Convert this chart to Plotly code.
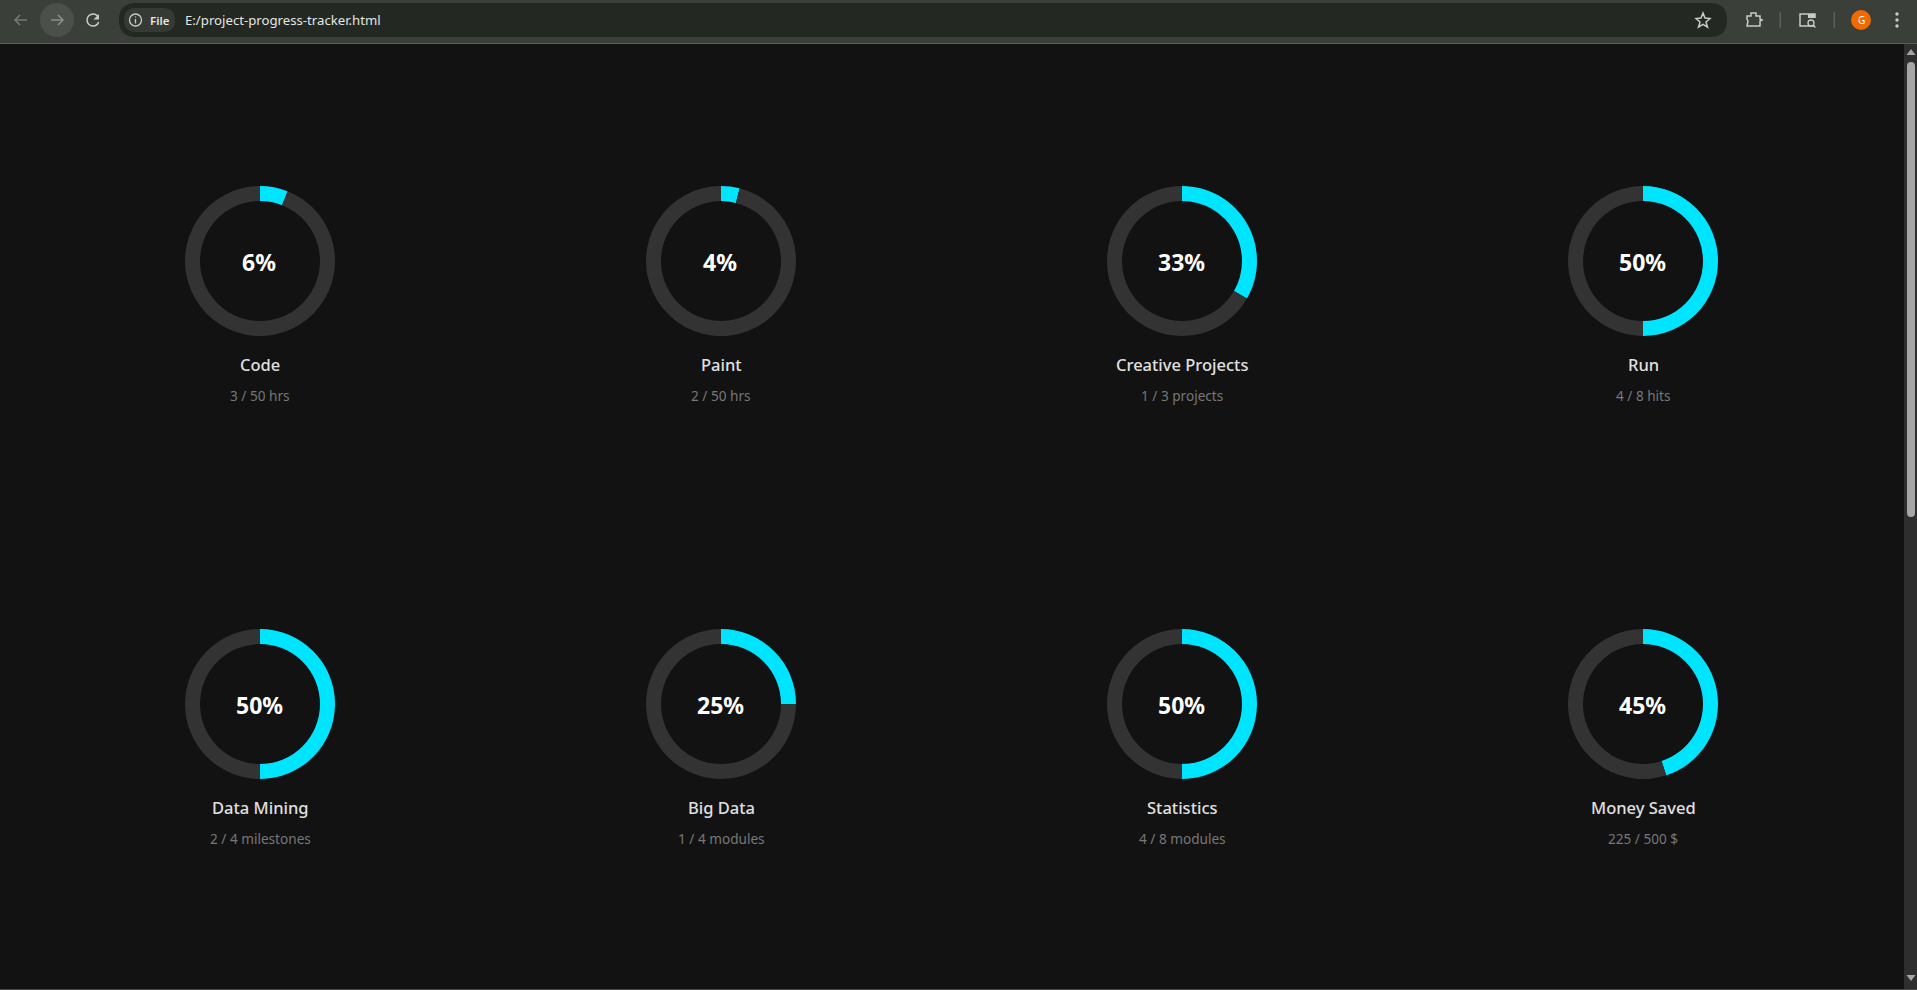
import plotly.graph_objects as go

names = ["Code", "Paint", "Creative Projects", "Run", "Data Mining", "Big Data", "Statistics", "Money Saved"]
done = [3, 2, 1, 4, 2, 1, 4, 225]
totals = [50, 50, 3, 8, 4, 4, 8, 500]
units = ["hrs", "hrs", "projects", "hits", "milestones", "modules", "modules", "$"]
url_text = "E:/project-progress-tracker.html"

W, H = 1917, 990
CX = [260, 721, 1182, 1643]
CY = [261, 704]
R = 75
BG = "#121212"
CYAN = "#00e5ff"
TRACK = "#333333"
FONT = "Noto Sans, Open Sans, sans-serif"

fig = go.Figure()
fig.add_trace(go.Scatter(x=[], y=[], showlegend=False, hoverinfo="skip"))

ann = []
def text(x, y, s, size, color, weight=400, xanchor="center"):
    ann.append(dict(x=x, y=y, xref="x", yref="y", text=s, showarrow=False, xanchor=xanchor, yanchor="middle",
                    font=dict(family=FONT, size=size, color=color, weight=weight)))

for i, name in enumerate(names):
    cx = CX[i % 4]
    cy = CY[i // 4]
    fig.add_trace(go.Pie(
        values=[done[i], totals[i] - done[i]],
        hole=0.8, sort=False, direction="clockwise", rotation=0,
        marker=dict(colors=[CYAN, TRACK], line=dict(width=0)),
        textinfo="none", hoverinfo="skip", showlegend=False,
        domain=dict(x=[(cx - R) / W, (cx + R) / W], y=[1 - (cy + R) / H, 1 - (cy - R) / H]),
    ))
    text(cx - 1, cy + 1, f"{round(done[i] / totals[i] * 100)}%", 23, "#ffffff", 700)
    text(cx, cy + 103, name, 16.5, "#e0e0e0", 500)
    text(cx, cy + 134, f"{done[i]} / {totals[i]} {units[i]}", 13.6, "#777777")

def rrect(x0, y0, x1, y1, r):
    return (f"M{x0+r},{y0} L{x1-r},{y0} Q{x1},{y0} {x1},{y0+r} L{x1},{y1-r} Q{x1},{y1} {x1-r},{y1} "
            f"L{x0+r},{y1} Q{x0},{y1} {x0},{y1-r} L{x0},{y0+r} Q{x0},{y0} {x0+r},{y0} Z")

shapes = []
def fill(path, color):
    shapes.append(dict(type="path", xref="x", yref="y", path=path, fillcolor=color, line=dict(width=0)))
def stroke(path, color, w=1.5):
    shapes.append(dict(type="path", xref="x", yref="y", path=path, line=dict(color=color, width=w)))
def circle(cx, cy, r, fillc=None, linec=None, w=1.5):
    shapes.append(dict(type="circle", xref="x", yref="y", x0=cx - r, x1=cx + r, y0=cy - r, y1=cy + r,
                       fillcolor=fillc or "rgba(0,0,0,0)",
                       line=dict(color=linec or "rgba(0,0,0,0)", width=w if linec else 0)))

BAR = "#3b3f3a"
ICON = "#c8ccc6"
# browser bar
fill(f"M0,0 L{W},0 L{W},43 L0,43 Z", BAR)
fill(f"M0,43 L{W},43 L{W},44 L0,44 Z", "#5a5e59")
circle(57, 20, 17, "#4c504b")
stroke("M15,20 L27,20 M20,15 L15,20 L20,25", "#767a75")
stroke("M51,20 L63,20 M58,15 L63,20 L58,25", "#8a8e89")
stroke("M98.4,17.5 C97.4,15.4 95.4,14 93,14 C89.7,14 87,16.7 87,20 C87,23.3 89.7,26 93,26 C95.6,26 97.8,24.4 98.6,22", ICON)
fill("M99,14 L99,19.5 L93.5,19.5 Z", ICON)
fill(rrect(119, 3, 1727, 37, 17), "#232822")
fill(rrect(124, 8, 175, 32, 12), "#363a35")
circle(135.5, 20, 6, None, ICON, 1.3)
stroke("M135.5,19 L135.5,23.5 M135.5,16.5 L135.5,17.5", ICON, 1.3)
text(148, 20, "File", 11.5, "#e6e8e4", 600, "left")
text(182.5, 20, url_text, 13.2, "#e3e6e1", 400, "left")
stroke("M1703,13 L1705,18 L1710,18.5 L1706,22 L1707.5,27 L1703,24.3 L1698.5,27 L1700,22 L1696,18.5 L1701,18 Z", ICON)
stroke("M1747,16 L1751,16 L1751,13 L1756,13 L1756,16 L1760,16 L1760,19 L1762,20 L1760,21 L1760,26 L1747,26 L1748,21 L1747,19 Z", ICON)
fill("M1779.5,12 L1781,12 L1781,28 L1779.5,28 Z", "#5c605b")
stroke("M1815,26 L1800,26 L1800,14 L1815,14 L1815,18", ICON)
fill("M1808,14 L1815,14 L1815,18 L1808,18 Z", ICON)
circle(1811, 23, 3, None, ICON, 1.3)
stroke("M1813,25.5 L1815.5,27.5", ICON, 1.3)
fill("M1833.5,12 L1835,12 L1835,28 L1833.5,28 Z", "#5c605b")
circle(1861, 20, 10, "#f06a00")
text(1861, 20, "G", 10, "#ffffff", 400)
for y in (14, 20, 26):
    circle(1897, y, 1.7, ICON)

# scrollbar
fill(f"M1904,44 L{W},44 L{W},{H} L1904,{H} Z", "#2e2e2e")
fill(rrect(1907, 62, 1915, 517, 4), "#a6a6a6")
fill("M1911,49 L1915.5,55 L1906.5,55 Z", "#a6a6a6")
fill("M1906.5,975 L1915.5,975 L1911,981 Z", "#a6a6a6")
fill(f"M0,989 L{W},989 L{W},{H} L0,{H} Z", "#4a4a4a")

fig.update_layout(
    width=W, height=H, autosize=False,
    margin=dict(l=0, r=0, t=0, b=0, pad=0),
    paper_bgcolor=BG, plot_bgcolor=BG,
    xaxis=dict(range=[0, W], visible=False, fixedrange=True),
    yaxis=dict(range=[H, 0], visible=False, fixedrange=True),
    shapes=shapes, annotations=ann,
)
fig.write_html("out.html", config=dict(displayModeBar=False),
               post_script="document.body.style.margin='0';document.body.style.overflow='hidden';document.body.style.background='#121212';")
